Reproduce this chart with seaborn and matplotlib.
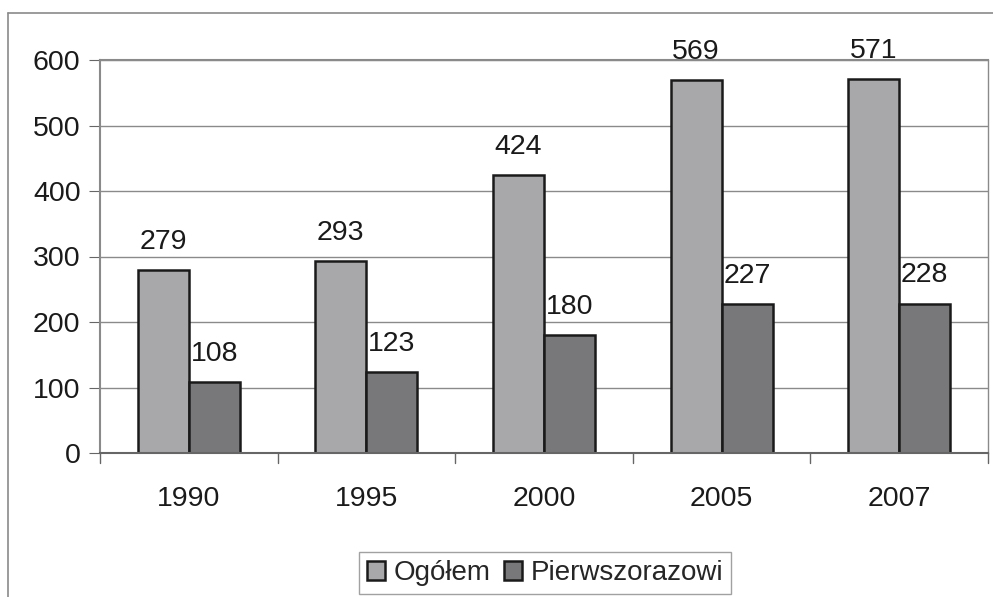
import matplotlib.pyplot as plt
import seaborn as sns
import pandas as pd
from matplotlib.lines import Line2D

years = ["1990", "1995", "2000", "2005", "2007"]
ogolem = [279, 293, 424, 569, 571]
pierwszorazowi = [108, 123, 180, 227, 228]
series = ["Ogółem", "Pierwszorazowi"]

df = pd.DataFrame({
    "rok": years * 2,
    "wartosc": ogolem + pierwszorazowi,
    "seria": [series[0]] * len(years) + [series[1]] * len(years),
})

sns.set_style("white")
plt.rcParams["font.family"] = ["Liberation Sans", "DejaVu Sans"]

fs = 20.5
fig = plt.figure(figsize=(9.93, 5.97), dpi=100)
ax = fig.add_axes([100 / 993, 1 - 453 / 597, 888 / 993, 393 / 597])

sns.barplot(
    data=df, x="rok", y="wartosc", hue="seria",
    palette=["#a7a8ac", "#77787c"], width=0.575, gap=0,
    edgecolor="#1a1a1a", linewidth=1.8, ax=ax, legend=True,
)

for cont in ax.containers:
    ax.bar_label(cont, padding=11, fontsize=fs, color="#1a1a1a")

ax.set_ylim(0, 600)
ax.set_xlim(-0.5, 4.5)
ax.set_yticks(range(0, 601, 100))
ax.yaxis.grid(True, color="#8a8a8a", linewidth=1)
ax.set_axisbelow(True)
ax.set_xlabel("")
ax.set_ylabel("")
ax.tick_params(axis="y", labelsize=fs, length=8, color="#666666", pad=6,
               left=True, labelcolor="#1a1a1a")
ax.tick_params(axis="x", labelsize=fs, length=0, pad=24, labelcolor="#1a1a1a")
for x in [-0.5, 0.5, 1.5, 2.5, 3.5, 4.5]:
    ax.plot([x, x], [0, -0.025], transform=ax.get_xaxis_transform(),
            color="#666666", linewidth=1, clip_on=False)

for side in ["left", "top", "right", "bottom"]:
    ax.spines[side].set_color("#8a8a8a")
    ax.spines[side].set_linewidth(1.5)
ax.spines["right"].set_linewidth(1)
ax.spines["bottom"].set_color("#666666")

handles, labels = ax.get_legend_handles_labels()
ax.get_legend().remove()
leg = fig.legend(
    handles, labels, loc="center", bbox_to_anchor=(545 / 993, 1 - 573 / 597),
    ncol=2, fontsize=20, frameon=True, fancybox=False, edgecolor="#8a8a8a",
    handlelength=0.65, handleheight=0.65, handletextpad=0.3, columnspacing=0.5,
    borderpad=0.3, borderaxespad=0,
)
leg.get_frame().set_linewidth(1)

# outer chart frame
fig.add_artist(Line2D([8 / 993, 8 / 993], [0, 1 - 13 / 597],
                      transform=fig.transFigure, color="#8a8a8a", linewidth=1.2))
fig.add_artist(Line2D([8 / 993, 1], [1 - 13 / 597, 1 - 13 / 597],
                      transform=fig.transFigure, color="#8a8a8a", linewidth=1.2))

fig.savefig("out.png", dpi=100)
